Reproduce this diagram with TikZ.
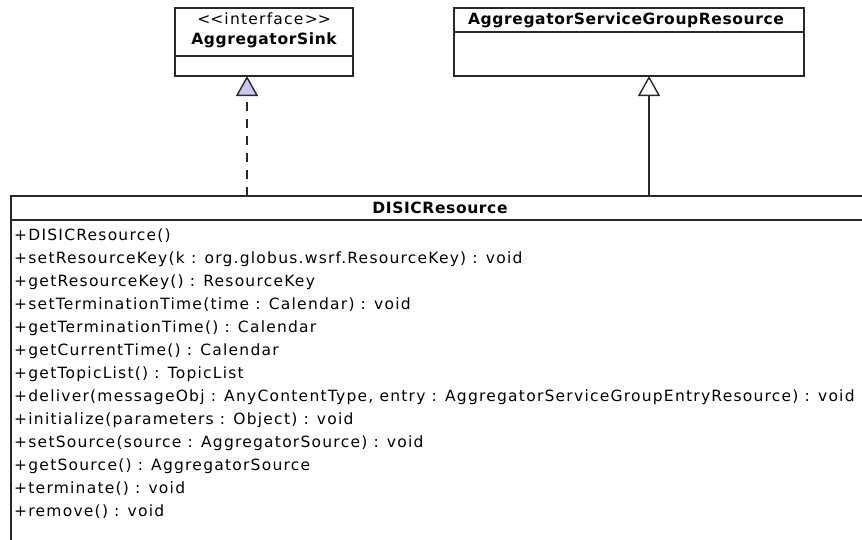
\documentclass[tikz,border=0pt]{standalone}
\usepackage{fontspec}
\setmainfont{DejaVu Sans}
\usetikzlibrary{arrows.meta}
\definecolor{umlline}{RGB}{40,40,40}
\definecolor{ifacefill}{RGB}{200,200,238}
\newfontfamily\umlregular[LetterSpace=8]{DejaVu Sans}
\newfontfamily\umlbold[LetterSpace=4]{DejaVu Sans Bold}
\tikzset{
  umlbox/.style={draw=umlline, line width=1.4pt, fill=white},
  umltitle/.style={inner sep=0pt, font=\fontsize{15.5}{18}\umlbold},
  umltext/.style={inner sep=0pt, font=\fontsize{15.5}{18}\umlregular},
  realize/.style={draw=umlline, line width=1.4pt, dash pattern=on 9pt off 8pt,
    -{Triangle[open, length=20pt, width=22pt, fill=ifacefill, line width=1.4pt]}},
  inherit/.style={draw=umlline, line width=1.4pt,
    -{Triangle[open, length=20pt, width=22pt, fill=white, line width=1.4pt]}},
}
\begin{document}
\begin{tikzpicture}[x=1pt,y=-1pt]
\useasboundingbox (0,0) rectangle (862,539);
\begin{scope}
\clip (0,0) rectangle (862,539);
% interface AggregatorSink
\draw[umlbox] (175,8) rectangle (353,76);
\draw[umlbox] (175,56) -- (353,56);
\node[umltext] (sinkst) at (264,19) {<\kern0pt<interface>\kern0pt>};
\node[umltitle] (sinkname) at (264,40) {AggregatorSink};
\coordinate (sink) at (247,76);
% class AggregatorServiceGroupResource
\draw[umlbox] (454,8) rectangle (804,76);
\draw[umlbox] (454,32) -- (804,32);
\node[umltitle] (agsrname) at (626,20) {AggregatorServiceGroupResource};
\coordinate (agsr) at (649,76);
% class DISICResource (runs past the right and bottom edges)
\draw[umlbox] (11,196) rectangle (875,560);
\draw[umlbox] (11,220) -- (875,220);
\node[umltitle] (disicname) at (440,208) {DISICResource};
\coordinate (disicL) at (247,196);
\coordinate (disicR) at (649,196);
\node[umltext, anchor=north west, align=left, font=\fontsize{15.5}{23}\umlregular] (ops) at (14,229) {%
+DISICResource()\\
+setResourceKey(k : org.globus.wsrf.ResourceKey) : void\\
+getResourceKey() : ResourceKey\\
+setTerminationTime(time : Calendar) : void\\
+getTerminationTime() : Calendar\\
+getCurrentTime() : Calendar\\
+getTopicList() : TopicList\\
+deliver(messageObj : AnyContentType, entry : AggregatorServiceGroupEntryResource) : void\\
+initialize(parameters : Object) : void\\
+setSource(source : AggregatorSource) : void\\
+getSource() : AggregatorSource\\
+terminate() : void\\
+remove() : void};
% realization and generalization
\draw[realize] (disicL) -- (sink);
\draw[inherit] (disicR) -- (agsr);
\end{scope}
\end{tikzpicture}
\end{document}
